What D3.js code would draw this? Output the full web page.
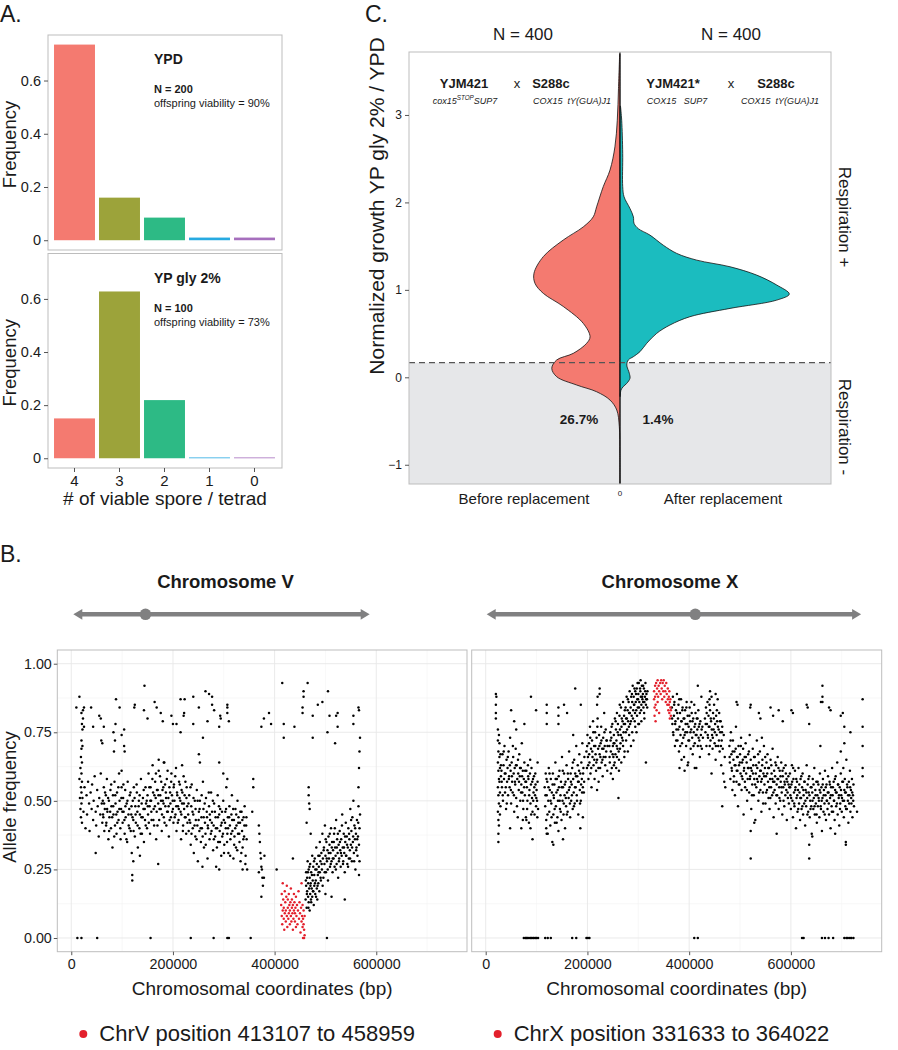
<!DOCTYPE html>
<html>
<head>
<meta charset="utf-8">
<script src="https://cdn.jsdelivr.net/npm/d3@7"></script>
<style>
  body { margin: 0; background: #fff; }
</style>
</head>
<body>
<script>
// ---------- data: panel A ----------
const sporeCats = ["4", "3", "2", "1", "0"];
const sporeColors = ["#f47a70", "#9ca33a", "#2dba85", "#27aae1", "#a66fbd"];
const ypdFreq = [0.735, 0.16, 0.085, 0.01, 0.01];
const glyFreq = [0.15, 0.628, 0.219, 0.003, 0.003];
const freqTicks = [0, 0.2, 0.4, 0.6];

// ---------- data: panel C (half violins, [growth, relative density]) ----------
const growthTicks = [-1, 0, 1, 2, 3];
const respThreshold = 0.167;
const beforeDensity = [
  [3.7, 0.002], [3.3, 0.009], [2.94, 0.016], [2.635, 0.030], [2.37, 0.059], [2.18, 0.099],
  [1.95, 0.138], [1.835, 0.158], [1.72, 0.217], [1.57, 0.335], [1.38, 0.453], [1.19, 0.508],
  [1.074, 0.502], [0.96, 0.453], [0.81, 0.335], [0.617, 0.217], [0.464, 0.177], [0.389, 0.197],
  [0.274, 0.276], [0.198, 0.374], [0.103, 0.403], [0.007, 0.374], [-0.088, 0.256], [-0.165, 0.138],
  [-0.26, 0.059], [-0.374, 0.019], [-0.564, 0.004], [-0.869, 0.001], [-1.22, 0.0005]
];
const afterDensity = [
  [3.1, 0.003], [2.94, 0.010], [2.56, 0.016], [2.18, 0.016], [2.064, 0.024], [1.93, 0.059],
  [1.835, 0.079], [1.76, 0.083], [1.70, 0.108], [1.626, 0.177], [1.51, 0.256], [1.417, 0.335],
  [1.34, 0.453], [1.264, 0.650], [1.169, 0.807], [1.055, 0.926], [0.952, 1.0], [0.883, 0.926],
  [0.788, 0.650], [0.693, 0.413], [0.598, 0.295], [0.503, 0.217], [0.389, 0.158], [0.293, 0.118],
  [0.236, 0.079], [0.198, 0.049], [0.141, 0.040], [0.046, 0.055], [-0.011, 0.059], [-0.069, 0.040],
  [-0.107, 0.019], [-0.145, 0.006], [-0.22, 0.001]
];
const groupLabels = ["Before replacement", "After replacement"];
const respLowPct = ["26.7%", "1.4%"];

// ---------- data: panel B ([kb, allele frequency %]) ----------
const chrVBlack = [
  [16,58],[17,51],[18,62],[18,47],[19,55],[19,44],[20,60],[20,53],[20,49],[21,57],[21,64],[21,42],[22,51],[22,70],[22,76],[23,83],[24,46],[26,55],[28,40],[30,52],[31,45],[33,57],[35,49],[36,39],[38,53],[40,47],[41,56],[43,43],[44,50],[46,59],[48,46],[49,41],[51,54],[52,48],[54,37],[55,51],[57,45],[58,60],[60,49],[61,42],[48,31],
  [20,69],[20,72],[21,78],[20,82],[19,66],
  [62,50],[63,44],[64,55],[65,39],[66,47],[68,52],[69,42],[70,58],[71,46],[73,36],[74,50],[75,44],[77,54],[78,40],[79,48],[81,33],[82,52],[83,45],[85,57],[86,41],[87,49],[89,38],[90,53],[91,46],[93,43],[94,60],[95,50],[97,36],[98,47],[99,55],
  [101,42],[102,51],[103,46],[105,38],[106,54],[107,44],[109,49],[110,35],[111,57],[113,41],[114,47],[115,52],[117,39],[118,45],[119,31],[121,50],[122,43],[123,55],[125,37],[126,48],[127,42],[129,53],[130,46],[131,33],[133,50],[134,40],[135,45],[137,58],[138,44],[139,38],[141,51],[142,47],[143,35],[145,43],[146,55],[147,49],[149,40],
  [150,52],[151,45],[152,60],[154,48],[155,38],[156,55],[157,50],[158,43],[160,63],[161,53],[162,47],[163,41],[165,57],[166,51],[167,36],[168,46],[170,54],[171,49],[172,61],[173,43],[175,52],[176,47],[177,57],[178,39],[180,50],[181,55],[182,44],[183,64],[185,48],[186,53],[187,41],[188,58],[190,46],[191,51],[192,37],[193,55],[195,49],[196,44],[197,60],[198,52],[200,47],[201,42],[202,56],[203,50],[205,45],[206,62],[207,39],[208,53],[210,48],[211,43],[212,57],[213,51],[215,46],[216,36],[217,54],[218,49],[220,41],[221,59],[222,47],[223,52],[225,44],[226,38],[227,55],[228,48],
  [230,45],[231,39],[232,52],[234,42],[235,34],[236,48],[237,56],[239,40],[240,45],[241,31],[243,50],[244,37],[245,43],[247,54],[248,41],[249,28],[251,46],[252,39],[253,50],[255,35],[256,44],[257,40],[259,57],[260,47],[261,33],[263,42],[264,38],[265,51],[267,44],[268,29],[269,40],[271,48],[272,36],[273,43],[275,53],[276,39],[277,46],[279,32],[280,41],[281,49],[283,37],[284,44],[285,26],[287,40],[288,52],[289,35],[291,45],[292,39],[293,47],[295,30],[296,42],[297,37],[299,50],[300,43],[301,34],[303,46],[304,40],[305,55],[307,38],[308,44],[309,31],[311,48],[312,41],[313,36],[315,45],[316,52],[317,39],[319,29],[320,43],[321,37],[323,47],[324,33],[325,41],[327,50],[328,38],[329,44],[331,35],[332,42],[333,28],[335,46],[336,39],[337,33],[339,44],[340,37],[341,48],[343,30],[344,41],[345,36],[346,25],
  [62.5,45],[64.5,49],[66.5,53],[68.5,41],[70.5,47],[72.5,51],[74.5,39],[76.5,46],[78.5,56],[80.5,44],[82.5,48],[84.5,37],[86.5,52],[88.5,45],[90.5,42],[92.5,55],[94.5,47],[96.5,40],[98.5,51],[100.5,46],[102.5,56],[104.5,43],[106.5,48],[108.5,36],[110.5,50],[112.5,45],[114.5,40],[116.5,53],[118.5,48],[120.5,44],[122.5,39],[124.5,51],[126.5,45],[128.5,56],[130.5,41],[132.5,48],[134.5,52],[136.5,38],[138.5,49],[140.5,44],[142.5,54],[144.5,47],[146.5,41],[148.5,50],
  [150.5,48],[152.5,42],[153.5,55],[155.5,50],[157.5,46],[159.5,58],[161.5,43],[163.5,52],[164.5,48],[166.5,60],[168.5,54],[169.5,41],[171.5,52],[173.5,47],[174.5,59],[176.5,50],[178.5,45],[179.5,54],[181.5,49],[183.5,42],[184.5,56],[186.5,51],[188.5,46],[189.5,61],[191.5,48],[193.5,43],[194.5,53],[196.5,57],[198.5,46],[199.5,50],[201.5,55],[203.5,44],[204.5,59],[206.5,48],[208.5,52],[209.5,42],[211.5,47],[213.5,56],[214.5,50],[216.5,45],[218.5,53],[219.5,39],[221.5,49],[223.5,44],[224.5,57],[226.5,51],[228.5,42],
  [230.5,49],[232.5,43],[234.5,55],[236.5,38],[238.5,46],[240.5,51],[242.5,41],[244.5,47],[246.5,36],[248.5,50],[250.5,43],[252.5,47],[254.5,40],[256.5,52],[258.5,37],[260.5,44],[262.5,49],[264.5,34],[266.5,46],[268.5,41],[270.5,53],[272.5,45],[274.5,38],[276.5,42],[278.5,50],[280.5,36],[282.5,46],[284.5,40],[286.5,33],[288.5,44],[290.5,48],[292.5,35],[294.5,41],[296.5,46],[298.5,38],[300.5,31],[302.5,42],[304.5,47],[306.5,35],[308.5,40],[310.5,44],[312.5,30],[314.5,38],[316.5,43],[318.5,47],[320.5,34],[322.5,40],[324.5,45],[326.5,32],[328.5,42],[330.5,38],[332.5,46],[334.5,31],[336.5,43],[338.5,36],[340.5,41],[342.5,27],[344.5,44],
  [358,58],[358,55],[356,46],[369,41],[370,38],[371,35],[372,31],[373,29],[374,26],[375,25],[376,22],[377,19],[379,22],[380,30],[374,15],[404,25],[436,29],
  [16,88],[10,84],[25,84],[39,84],[55,81],[88,87],[95,84],[125,85],[144,92],[143,83],[164,86],[176,82],[197,81],[215,87],[223,87],[222,82],[240,88],[264,90],[271,89],[277,88],[277,85],[293,81],[307,85],[307,84],
  [23,80],[25,77],[43,77],[58,80],[59,72],[64,77],[61,71],[83,75],[86,72],[87,78],[104,76],[104,70],[99,74],[124,84],[150,80],[168,84],[180,79],[200,78],[207,78],[215,75],[221,81],[240,78],[251,84],[259,73],[268,79],[281,83],[291,77],[294,80],[307,82],[310,79],
  [84,68],[105,68],[251,67],[253,64],[291,64],[299,60],[307,58],[172,65],[182,64],[218,63],[99,61],
  [120,23],[120,21],[122,28],[135,30],[171,27],[258,26],[291,25],[337,25],[369,24],
  [374,77],[379,80],[389,82],[393,78],[418,78],[418,73],[439,77],[415,93],[465,93],[505,90],[457,90],[457,88],[494,86],[455,84],[455,82],[475,81],[475,73],[485,85],[504,75],[508,81],[521,81],[524,77],[519,71],[555,81],[555,78],[524,82],[565,84],[566,83],
  [461,14],[462,19],[462,24],[463,11],[464,17],[464,22],[465,28],[466,15],[466,20],[467,13],[467,25],[468,18],[469,10],[469,22],[470,16],[470,27],[471,20],[472,13],[472,24],[473,18],[474,30],[474,15],[475,21],[476,26],[476,17],[477,12],[478,23],[478,19],[479,29],[480,16],[480,25],[481,21],[482,33],[483,18],[483,27],[484,14],[485,23],[486,30],[486,20],[487,26],[488,17],[489,35],[489,24],[490,28],[491,21],[492,31],[493,25],[494,38],[495,29],[496,22],[497,33],[498,27],[499,41],[500,30],[501,24],[502,35],[503,28],[504,32],[505,21],[506,37],[507,29],[508,34],[509,26],[510,31],[511,40],[512,28],[513,35],[514,24],[515,32],[516,29],[517,38],[518,26],[519,33],[520,30],[521,43],[522,27],[523,36],[524,31],[525,22],[526,34],[527,29],[528,39],[529,32],[530,26],[531,36],[532,30],[533,45],[534,33],[535,28],[536,38],[537,31],[538,24],[539,35],[540,42],[541,30],[542,37],[543,27],[544,33],[545,40],[546,29],[547,36],[548,32],[549,47],[550,34],[551,39],[552,28],[553,44],[554,35],[555,50],[556,31],[557,41],[558,36],[559,25],[560,38],[561,33],[562,43],[563,30],[564,37],[565,48],[565,55],[566,34],[566,62],[567,40],[567,68],[568,45],[568,73],[567,28],[566,23],
  [461.5,21],[463.5,16],[465.5,24],[466.5,11],[468.5,26],[470.5,19],[471.5,14],[473.5,23],[475.5,17],[477.5,28],[479.5,20],[481.5,15],[482.5,25],[484.5,19],[486.5,24],[488.5,30],[490.5,22],[492.5,27],[494.5,19],[496.5,32],[498.5,24],[500.5,36],[502.5,29],[504.5,25],[506.5,31],[508.5,38],[510.5,27],[512.5,33],[514.5,29],[516.5,35],[518.5,40],[520.5,25],[522.5,33],[524.5,38],[526.5,28],[528.5,35],[530.5,31],[532.5,41],[534.5,27],[536.5,33],[538.5,37],[540.5,30],[542.5,34],[544.5,26],[546.5,38],[548.5,29],[550.5,43],[552.5,33],[554.5,37],[556.5,28],[558.5,40],[560.5,32],[562.5,36],[564.5,42],
  [467,55],[467,52],[468,49],[469,47],[463,42],[471,38],[500,16],[512,15],[538,14],
  [12,0],[20,0],[51,0],[156,0],[235,0],[280,0],[307,0],[310,0],[353,0],[503,0]
];
const chrVRed = [
  [413,12],[414,8],[414,16],[415,5],[416,10],[416,20],[417,14],[418,7],[418,11],[419,3],[420,9],[420,17],[421,13],[422,6],[422,10],[423,15],[424,8],[424,19],[425,4],[426,11],[426,14],[427,7],[428,9],[428,16],[429,12],[430,5],[430,10],[431,13],[432,8],[432,18],[433,6],[434,11],[434,14],[435,9],[436,3],[436,12],[437,7],[438,10],[438,16],[439,13],[440,6],[440,9],[441,11],[442,4],[442,15],[443,8],[444,12],[445,5],[446,10],[447,17],[448,7],[449,13],[450,9],[451,2],[452,11],[453,6],[453,20],[454,8],[455,4],[455,12],[456,7],[456,0],[457,10],[457,5],[458,3],[458,0],[459,8],[459,1]
];
const chrXBlack = [
  [24,76],[24,72],[25,68],[24,64],[25,61],[26,58],[24,55],[25,52],[26,49],[24,46],[25,43],[26,41],[27,71],[27,66],[28,62],[27,57],[28,53],[29,48],[28,45],[30,59],[30,63],[29,67],[26,74],[25,38],[25,35],
  [20,85],[20,82],[20,80],[21,88],
  [31,61],[32,55],[33,67],[34,50],[35,63],[36,58],[37,70],[38,53],[39,60],[40,47],[41,65],[42,57],[43,62],[44,52],[45,68],[46,59],[47,55],[48,73],[49,61],[50,49],[51,64],[52,57],[53,53],[54,66],[55,60],[56,46],[57,62],[58,56],[59,69],[60,51],[61,63],[62,58],[63,44],[64,60],[65,54],[66,67],[67,59],[68,50],[69,62],[70,56],[71,71],[72,53],[73,61],[74,47],[75,58],[76,64],[77,52],[78,57],[79,44],[80,61],[81,55],[82,50],[83,63],[84,58],[85,42],[86,54],[87,60],[88,49],[89,56],[90,62],[91,51],[92,46],[93,58],[94,53],[95,59],[96,45],[97,52],[98,56],[99,48],[100,54],[101,50],[102,57],[103,47],
  [31.5,57],[33.5,52],[35.5,68],[37.5,60],[39.5,55],[41.5,49],[43.5,66],[45.5,58],[47.5,63],[49.5,54],[51.5,59],[53.5,70],[55.5,52],[57.5,57],[59.5,63],[61.5,48],[63.5,65],[65.5,57],[67.5,62],[69.5,53],[71.5,59],[73.5,50],[75.5,55],[77.5,61],[79.5,57],[81.5,47],[83.5,59],[85.5,52],[87.5,65],[89.5,45],[91.5,57],[93.5,50],[95.5,55],[97.5,60],[99.5,51],[101.5,44],
  [48,40],[70,40],[88,40],[60,76],[102,64],
  [116,55],[117,48],[118,60],[119,43],[120,52],[121,57],[122,38],[123,50],[124,62],[125,46],[126,54],[127,41],[128,58],[129,49],[130,53],[131,35],[132,60],[133,45],[134,51],[135,56],[136,42],[137,64],[138,48],[139,53],[140,58],[141,44],[142,50],[143,39],[144,55],[145,61],[146,47],[147,52],[148,57],[149,43],[150,66],[151,50],[152,55],[153,45],[154,60],[155,52],[156,40],[157,57],[158,48],[159,63],[160,53],[161,46],[162,58],[163,51],[164,68],[165,55],[166,44],[167,60],[168,50],[169,56],[170,62],[171,47],[172,58],[173,53],[174,65],[175,49],[176,60],[177,55],[178,70],[179,52],[180,59],[181,63],[182,45],[183,57],[184,67],[185,54],[186,60],[187,50],[188,64],[189,58],[190,71],[191,55],[192,62],[193,53],[194,66],
  [117.5,52],[119.5,58],[121.5,45],[123.5,55],[125.5,60],[127.5,50],[129.5,44],[131.5,56],[133.5,52],[135.5,47],[137.5,58],[139.5,42],[141.5,54],[143.5,59],[145.5,50],[147.5,46],[149.5,55],[151.5,61],[153.5,49],[155.5,56],[157.5,51],[159.5,45],[161.5,60],[163.5,54],[165.5,49],[167.5,57],[169.5,52],[171.5,64],[173.5,48],[175.5,55],[177.5,59],[179.5,50],[181.5,57],[183.5,61],[185.5,49],[187.5,56],[189.5,53],[191.5,60],[193.5,57],
  [198,68],[199,62],[200,74],[201,66],[202,58],[203,71],[204,64],[205,77],[206,60],[207,69],[208,55],[209,72],[210,66],[211,79],[212,63],[213,70],[214,58],[215,75],[216,67],[217,61],[218,73],[219,65],[220,80],[221,69],[222,57],[223,74],[224,67],[225,62],[226,71],[227,77],[228,64],[229,69],[230,59],[231,73],[232,66],[233,82],[234,70],[235,63],[236,76],[237,68],[238,72],[239,61],
  [199.5,70],[201.5,63],[203.5,67],[205.5,73],[207.5,62],[209.5,68],[211.5,75],[213.5,65],[215.5,70],[217.5,64],[219.5,77],[221.5,62],[223.5,70],[225.5,66],[227.5,72],[229.5,65],[231.5,69],[233.5,75],[235.5,66],[237.5,72],[239.5,70],
  [243,70],[244,64],[245,75],[246,68],[247,73],[248,62],[249,78],[250,70],[251,66],[252,74],[253,71],[254,80],[255,67],[256,76],[257,72],[258,82],[259,69],[260,78],[261,74],[262,65],[263,81],[264,76],[265,71],[266,84],[267,77],[268,73],[269,79],[270,86],[271,75],[272,81],[273,68],[274,78],[275,84],[276,80],[277,88],[278,76],[279,83],[280,79],[281,86],[282,82],[283,90],[284,78],[285,84],[286,88],[287,81],[288,86],[289,92],[290,83],[291,88],[292,85],[293,79],[294,90],[295,86],[296,83],[297,91],[298,87],[299,84],[300,89],[301,93],[302,86],[303,82],[304,90],[305,88],[306,85],[307,92],[308,87],[309,89],[310,84],[311,91],[312,86],[313,88],[314,93],[315,85],[316,89],[317,87],[318,90],
  [246,60],[252,63],[258,66],[264,69],[270,70],[276,72],[282,74],[288,75],[294,77],[300,78],[306,79],[312,80],[250,58],[262,61],
  [243.5,66],[245.5,72],[247.5,77],[249.5,67],[251.5,71],[253.5,64],[255.5,79],[257.5,70],[259.5,75],[261.5,68],[263.5,85],[265.5,74],[267.5,80],[269.5,72],[271.5,78],[273.5,83],[275.5,75],[277.5,80],[279.5,87],[281.5,77],[283.5,82],[285.5,79],[287.5,89],[289.5,80],[291.5,85],[293.5,82],[295.5,89],[297.5,81],[299.5,87],[301.5,84],[303.5,91],[305.5,83],[307.5,88],[309.5,86],[311.5,82],[313.5,90],[315.5,87],[317.5,84],[301.5,78],[296.5,75],[290.5,72],[285.5,70],[279.5,68],[272.5,66],[266.5,64],[256.5,62],[304.5,94],[309.5,92],[298.5,93],[292.5,91],
  [366,84],[367,78],[368,88],[369,74],[370,81],[371,86],[372,70],[373,79],[374,83],[375,76],[376,89],[377,72],[378,80],[379,85],[380,68],[381,77],[382,82],[383,74],[384,87],[385,79],[386,71],[387,84],[388,76],[389,80],[390,66],[391,74],[392,83],[393,78],[394,70],[395,86],[396,75],[397,81],[398,64],[399,77],[400,72],[401,84],[402,79],[403,69],[404,76],[405,82],[406,73],[407,67],[408,80],[409,75],[410,85],[411,71],[412,78],[413,74],[414,62],[415,80],[416,76],[417,70],[418,83],[419,77],[420,72],[421,66],[422,79],[423,74],[424,88],[425,69],[426,77],[427,73],
  [366.5,80],[368.5,75],[370.5,85],[372.5,78],[374.5,72],[376.5,82],[378.5,76],[380.5,87],[382.5,70],[384.5,79],[386.5,83],[388.5,73],[390.5,80],[392.5,75],[394.5,84],[396.5,78],[398.5,72],[400.5,81],[402.5,75],[404.5,86],[406.5,79],[408.5,70],[410.5,77],[412.5,82],[414.5,74],[416.5,80],[418.5,73],[420.5,78],[422.5,70],[424.5,76],
  [431,80],[432,75],[433,84],[434,70],[435,78],[436,86],[437,73],[438,81],[439,67],[440,77],[441,83],[442,72],[443,79],[444,88],[445,74],[446,69],[447,82],[448,76],[449,85],[450,71],[451,78],[452,65],[453,81],[454,74],[455,79],[456,87],[457,70],[458,76],[459,82],[460,68],[461,75],[462,79],[463,63],[464,72],[465,77],[466,69],[467,60],[468,74],[469,57],[470,66],[471,55],
  [432.5,78],[434.5,82],[436.5,74],[438.5,77],[440.5,70],[442.5,80],[444.5,76],[446.5,73],[448.5,80],[450.5,75],[452.5,70],[454.5,83],[456.5,77],[458.5,72],[460.5,79],[462.5,70],[464.5,75],
  [381,62],[391,61],[411,62],[444,60],[385,65],[397,63],
  [479,70],[480,64],[481,58],[482,75],[483,67],[484,61],[485,54],[486,72],[487,65],[488,59],[489,68],[490,52],[491,63],[492,77],[493,57],[494,66],[495,61],[496,48],[497,70],[498,63],[499,56],[500,67],[501,60],[502,73],[503,54],[504,64],[505,58],[506,69],[507,45],[508,62],[509,66],[510,55],[511,71],[512,60],[513,64],[514,50],[515,58],[516,67],[517,62],[518,53],[519,74],[520,59],[521,65],[522,47],[523,61],[524,56],[525,69],[526,63],[527,52],[528,58],[529,66],[530,43],[531,60],[532,55],[533,72],[534,62],[535,57],[536,50],[537,64],[538,59],[539,68],[540,54],[541,61],[542,46],[543,58],[544,65],[545,53],[546,60],[547,70],[548,56],[549,62],[550,49],[551,59],[552,64],[553,54],[554,67],[555,57],[556,51],[557,62],[558,47],[559,58],[560,65],[561,55],[562,60],[563,52],[564,69],[565,57],[566,44],[567,61],[568,54],[569,59],[570,49],[571,63],[572,56],[573,52],[574,66],[575,58],[576,47],[577,55],[578,61],[579,50],[580,57],[581,64],[582,53],[583,45],[584,59],[585,55],[586,62],[587,48],[588,56],[589,52],[590,60],[591,54],[592,43],[593,57],[594,51],[595,59],[596,49],[597,55],
  [479.5,66],[481.5,72],[483.5,62],[485.5,68],[487.5,57],[489.5,63],[491.5,69],[493.5,61],[495.5,66],[497.5,56],[499.5,64],[501.5,70],[503.5,59],[505.5,65],[507.5,61],[509.5,57],[511.5,66],[513.5,54],[515.5,62],[517.5,68],[519.5,58],[521.5,62],[523.5,52],[525.5,60],[527.5,66],[529.5,56],[531.5,63],[533.5,58],[535.5,67],[537.5,53],[539.5,61],[541.5,57],[543.5,63],[545.5,49],[547.5,59],[549.5,66],[551.5,53],[553.5,60],[555.5,62],[557.5,55],[559.5,51],[561.5,63],[563.5,58],[565.5,53],[567.5,57],[569.5,64],[571.5,52],[573.5,58],[575.5,62],[577.5,51],[579.5,59],[581.5,55],[583.5,61],[585.5,50],[587.5,57],[589.5,63],[591.5,58],[593.5,53],[595.5,56],
  [598,60],[599,52],[600,47],[601,56],[602,63],[603,50],[604,44],[605,58],[606,53],[607,48],[608,61],[609,55],[610,40],[611,51],[612,57],[613,46],[614,54],[615,62],[616,49],[617,53],[618,43],[619,58],[620,51],[621,47],[622,55],[623,60],[624,45],[625,52],[626,49],[627,57],[628,41],[629,54],[630,48],[631,63],[632,51],[633,56],[634,46],[635,53],[636,59],[637,44],[638,50],[639,55],[640,48],[641,38],[642,53],[643,58],[644,47],[645,51],[646,62],[647,45],[648,54],[649,49],[650,57],[651,42],[652,52],[653,48],[654,56],[655,50],[656,44],[657,60],[658,53],[659,47],[660,55],[661,39],[662,51],[663,58],[664,46],[665,54],[666,49],[667,61],[668,52],[669,43],[670,56],[671,50],[672,47],[673,59],[674,53],[675,45],[676,57],[677,51],[678,40],[679,55],[680,48],[681,62],[682,52],[683,46],[684,57],[685,50],[686,43],[687,54],[688,59],[689,48],[690,53],[691,64],[692,45],[693,56],[694,51],[695,41],[696,55],[697,49],[698,60],[699,52],[700,46],[701,57],[702,50],[703,62],[704,44],[705,54],[706,58],[707,48],[708,53],[709,65],[710,47],[711,55],[712,50],[713,42],[714,57],[715,52],[716,61],[717,46],[718,54],[719,49],[720,58],[721,44],[722,52],[723,56],[724,48],
  [598.5,55],[600.5,51],[602.5,57],[604.5,62],[606.5,49],[608.5,54],[610.5,58],[612.5,52],[614.5,47],[616.5,56],[618.5,51],[620.5,59],[622.5,48],[624.5,54],[626.5,57],[628.5,50],[630.5,53],[632.5,45],[634.5,58],[636.5,52],[638.5,47],[640.5,55],[642.5,50],[644.5,56],[646.5,48],[648.5,52],[650.5,45],[652.5,57],[654.5,51],[656.5,54],[658.5,48],[660.5,50],[662.5,56],[664.5,52],[666.5,45],[668.5,55],[670.5,50],[672.5,53],[674.5,49],[676.5,56],[678.5,52],[680.5,46],[682.5,55],[684.5,50],[686.5,58],[688.5,53],[690.5,49],[692.5,56],[694.5,52],[696.5,47],[698.5,54],[700.5,51],[702.5,57],[704.5,50],[706.5,53],[708.5,47],[710.5,56],[712.5,52],[714.5,49],[716.5,55],[718.5,51],[720.5,53],[722.5,50],
  [20,89],[89,88],[99,83],[50,83],[56,79],[76,78],[120,85],[120,82],[120,78],[143,81],[143,78],[154,85],[172,74],[187,85],[176,91],[160,82],[143,84],[224,91],[224,89],[220,88],[219,85],[417,92],[441,90],[452,89],[440,87],[440,85],[493,86],[495,85],[521,85],[520,84],[537,82],[565,81],[576,83],[560,84],[584,79],[601,83],[604,82],[631,85],[633,84],[659,86],[662,92],[662,88],[662,86],[675,84],[678,83],[698,81],[702,82],[705,77],[705,71],[636,78],[658,70],[698,68],[540,80],[543,73],[717,75],
  [92,36],[80,43],[73,43],[120,38],[119,40],[133,34],[152,36],[186,40],[191,44],[219,54],[261,51],[315,64],[465,48],[521,39],[521,29],[528,42],[572,38],[636,34],[636,29],[642,37],[708,35],[708,34],[687,38],[730,46],
  [741,87],[741,77],[741,70],[741,62],[741,59],
  [75,0],[78,0],[80,0],[82,0],[85,0],[88,0],[90,0],[93,0],[95,0],[98,0],[100,0],[103,0],[117,0],[122,0],[128,0],[170,0],[178,0],[198,0],[201,0],[204,0],[410,0],[417,0],[622,0],[625,0],[661,0],[667,0],[674,0],[683,0],[705,0],[709,0],[712,0],[716,0],[719,0],[723,0]
];
const chrXRed = [
  [331,90],[331,87],[332,84],[332,81],[333,92],[333,88],[334,85],[334,79],[335,93],[336,89],[336,83],[337,91],[338,94],[338,86],[339,88],[340,92],[341,82],[341,90],[343,93],[344,89],[345,94],[346,91],[347,87],[348,93],[349,90],[350,94],[351,88],[352,92],[353,90],[354,86],[355,93],[356,89],[357,85],[358,91],[358,87],[359,83],[360,88],[360,85],[361,90],[361,82],[362,86],[362,80],[363,84],[363,87],[364,81],[364,83]
];
const chromNames = ["Chromosome V", "Chromosome X"];
const chromArrowKb = [[4, 587, 146], [2, 738, 412]]; // left tip, right tip, centromere
const regionLabels = ["ChrV position 413107 to 458959", "ChrX position 331633 to 364022"];
const alleleTicks = [0, 0.25, 0.5, 0.75, 1];
const coordTicks = [0, 200000, 400000, 600000];

// ---------- drawing ----------
const FONT = '"Liberation Sans", Arial, Helvetica, sans-serif';
const INK = "#1a1a1a";
const svg = d3.select("body").append("svg")
  .attr("width", 898).attr("height", 1050)
  .style("font-family", FONT);

function label(x, y, s, size, o = {}) {
  const t = svg.append("text")
    .attr("x", x).attr("y", y)
    .attr("font-size", size + "px")
    .attr("fill", o.fill || INK)
    .attr("text-anchor", o.anchor || "start")
    .style("white-space", "pre")
    .text(s);
  if (o.bold) t.attr("font-weight", "bold");
  if (o.italic) t.attr("font-style", "italic");
  if (o.rotate) t.attr("transform", `rotate(${o.rotate},${x},${y})`);
  return t;
}

function styleAxis(g, size) {
  g.attr("font-family", null);
  g.select(".domain").remove();
  g.selectAll(".tick line").attr("stroke", "#555");
  g.selectAll(".tick text").attr("font-size", size + "px").attr("fill", INK);
}

// panel letters
label(0, 22, "A.", 23);
label(365, 22, "C.", 23);
label(0, 562, "B.", 23);

// ---- A ----
function sporePanel(top, bottom, freqs, medium, nText, viabText, showX) {
  const x = d3.scaleBand().domain(sporeCats).range([52, 277]).paddingInner(0.09).paddingOuter(0.045);
  const y = d3.scaleLinear().domain([-0.0367, 0.771]).range([bottom, top]);

  svg.append("rect").attr("x", 48).attr("y", top).attr("width", 234).attr("height", bottom - top)
    .attr("fill", "#fff").attr("stroke", "#bdbdbd");

  svg.append("g").selectAll("rect").data(freqs).join("rect")
    .attr("x", (d, i) => x(sporeCats[i]))
    .attr("width", x.bandwidth())
    .attr("y", d => y(d))
    .attr("height", d => y(0) - y(d))
    .attr("fill", (d, i) => sporeColors[i]);

  const ay = svg.append("g").attr("transform", "translate(48,0)")
    .call(d3.axisLeft(y).tickValues(freqTicks).tickSize(4).tickPadding(3)
      .tickFormat(d => d === 0 ? "0" : d3.format(".1f")(d)));
  styleAxis(ay, 14.5);

  label(154, top + 29, medium, 14, { bold: true });
  label(154, top + 58, nText, 11, { bold: true });
  label(154, top + 72, viabText, 11);

  label(16, (top + bottom) / 2 + 2, "Frequency", 18.5, { anchor: "middle", rotate: -90 });

  if (showX) {
    const ax = svg.append("g").attr("transform", `translate(0,${bottom})`)
      .call(d3.axisBottom(x).tickSize(4).tickPadding(3));
    styleAxis(ax, 15);
    label(165, bottom + 37, "# of viable spore / tetrad", 19, { anchor: "middle" });
  }
}
sporePanel(35, 250, ypdFreq, "YPD", "N = 200", "offspring viability = 90%", false);
sporePanel(253.5, 468, glyFreq, "YP gly 2%", "N = 100", "offspring viability = 73%", true);

// ---- C ----
const cL = 409, cR = 831, cT = 52, cB = 484, cMid = 620;
const cy = d3.scaleLinear().domain([-1.22, 3.72]).range([cB, cT]);
const dens = d3.scaleLinear().domain([0, 1]).range([0, 169.3]);

svg.append("rect").attr("x", cL).attr("y", cT).attr("width", cR - cL).attr("height", cB - cT)
  .attr("fill", "#fff");
svg.append("rect").attr("x", cL).attr("y", cy(respThreshold)).attr("width", cR - cL)
  .attr("height", cB - cy(respThreshold)).attr("fill", "#e6e7e9");

const leftArea = d3.area().curve(d3.curveCatmullRom)
  .y(d => cy(d[0])).x0(cMid).x1(d => cMid - dens(d[1]));
const rightArea = d3.area().curve(d3.curveCatmullRom)
  .y(d => cy(d[0])).x0(cMid).x1(d => cMid + dens(d[1]));
svg.append("path").datum(beforeDensity).attr("d", leftArea)
  .attr("fill", "#f47a70").attr("stroke", "#111").attr("stroke-width", 0.8);
svg.append("path").datum(afterDensity).attr("d", rightArea)
  .attr("fill", "#1bbcbf").attr("stroke", "#111").attr("stroke-width", 0.8);

svg.append("line").attr("x1", cL).attr("x2", cR)
  .attr("y1", cy(respThreshold)).attr("y2", cy(respThreshold))
  .attr("stroke", "#555").attr("stroke-width", 1.2).attr("stroke-dasharray", "6,4");
svg.append("line").attr("x1", cMid).attr("x2", cMid).attr("y1", cT).attr("y2", cB)
  .attr("stroke", "#111").attr("stroke-width", 1);
svg.append("rect").attr("x", cL).attr("y", cT).attr("width", cR - cL).attr("height", cB - cT)
  .attr("fill", "none").attr("stroke", "#bdbdbd");

const acy = svg.append("g").attr("transform", `translate(${cL},0)`)
  .call(d3.axisLeft(cy).tickValues(growthTicks).tickFormat(d3.format("d")).tickSize(4).tickPadding(3));
styleAxis(acy, 12);

label(384, 206, "Normalized growth YP gly 2% / YPD", 21, { anchor: "middle", rotate: -90 });
label(523, 40, "N = 400", 17, { anchor: "middle" });
label(731, 40, "N = 400", 17, { anchor: "middle" });
label(524, 504, groupLabels[0], 15, { anchor: "middle" });
label(723, 504, groupLabels[1], 15, { anchor: "middle" });
label(cMid, 496, "0", 8, { anchor: "middle" });
label(839, 217, "Respiration +", 17, { anchor: "middle", rotate: 90 });
label(839, 427, "Respiration -", 17, { anchor: "middle", rotate: 90 });
label(579, 424, respLowPct[0], 13.5, { anchor: "middle", bold: true });
label(658, 424, respLowPct[1], 13.5, { anchor: "middle", bold: true });

// cross labels
label(464, 88, "YJM421", 13, { anchor: "middle", bold: true });
label(517, 88, "x", 13, { anchor: "middle" });
label(551, 88, "S288c", 13, { anchor: "middle", bold: true });
label(673, 88, "YJM421*", 13, { anchor: "middle", bold: true });
label(731, 88, "x", 13, { anchor: "middle" });
label(776, 88, "S288c", 13, { anchor: "middle", bold: true });
const g1 = label(465, 104, "", 9, { anchor: "middle", italic: true });
g1.append("tspan").text("cox15");
g1.append("tspan").attr("dy", -4).attr("font-size", "6.3px").text("STOP");
g1.append("tspan").attr("dy", 4).text("SUP7");
label(572, 104, "COX15  tY(GUA)J1", 9, { anchor: "middle", italic: true });
label(677, 104, "COX15   SUP7", 9, { anchor: "middle", italic: true });
label(780, 104, "COX15  tY(GUA)J1", 9, { anchor: "middle", italic: true });

// ---- B ----
const bT = 650, bB = 951.7;
const by = d3.scaleLinear().domain([-0.05, 1.05]).range([bB, bT]);
const panelsB = [
  { left: 57.3, right: 467, black: chrVBlack, red: chrVRed },
  { left: 471.7, right: 881.7, black: chrXBlack, red: chrXRed }
];

panelsB.forEach((p, k) => {
  const bx = d3.scaleLinear().domain([-27500, 778500]).range([p.left, p.right]);
  svg.append("rect").attr("x", p.left).attr("y", bT).attr("width", p.right - p.left).attr("height", bB - bT)
    .attr("fill", "#fff");
  const grid = svg.append("g");
  [0.125, 0.375, 0.625, 0.875].forEach(v => grid.append("line")
    .attr("x1", p.left).attr("x2", p.right).attr("y1", by(v)).attr("y2", by(v))
    .attr("stroke", "#f3f3f3").attr("stroke-width", 0.6));
  [100000, 300000, 500000, 700000].forEach(v => grid.append("line")
    .attr("x1", bx(v)).attr("x2", bx(v)).attr("y1", bT).attr("y2", bB)
    .attr("stroke", "#f3f3f3").attr("stroke-width", 0.6));
  alleleTicks.forEach(v => grid.append("line")
    .attr("x1", p.left).attr("x2", p.right).attr("y1", by(v)).attr("y2", by(v))
    .attr("stroke", "#e8e8e8").attr("stroke-width", 0.9));
  coordTicks.forEach(v => grid.append("line")
    .attr("x1", bx(v)).attr("x2", bx(v)).attr("y1", bT).attr("y2", bB)
    .attr("stroke", "#e8e8e8").attr("stroke-width", 0.9));

  svg.append("g").selectAll("circle").data(p.black).join("circle")
    .attr("cx", d => bx(d[0] * 1000)).attr("cy", d => by(d[1] / 100))
    .attr("r", 1.25).attr("fill", "#000");
  svg.append("g").selectAll("circle").data(p.red).join("circle")
    .attr("cx", d => bx(d[0] * 1000)).attr("cy", d => by(d[1] / 100))
    .attr("r", 1.25).attr("fill", "#e3202c");

  svg.append("rect").attr("x", p.left).attr("y", bT).attr("width", p.right - p.left).attr("height", bB - bT)
    .attr("fill", "none").attr("stroke", "#bdbdbd");

  const ax = svg.append("g").attr("transform", `translate(0,${bB})`)
    .call(d3.axisBottom(bx).tickValues(coordTicks).tickFormat(d3.format("d")).tickSize(3.5).tickPadding(4));
  styleAxis(ax, 14.3);
  if (k === 0) {
    const ay = svg.append("g").attr("transform", `translate(${p.left},0)`)
      .call(d3.axisLeft(by).tickValues(alleleTicks).tickFormat(d3.format(".2f")).tickSize(3.5).tickPadding(2));
    styleAxis(ay, 14.3);
    label(16, 797, "Allele frequency", 18.5, { anchor: "middle", rotate: -90 });
  }
  const mid = (p.left + p.right) / 2;
  label(mid, 995, "Chromosomal coordinates (bp)", 19, { anchor: "middle" });

  // chromosome diagram
  const [a0, a1, cen] = chromArrowKb[k].map(v => bx(v * 1000));
  label((a0 + a1) / 2 + (k === 0 ? 4 : -4), 588, chromNames[k], 18.5, { anchor: "middle", bold: true });
  const ay0 = 614.3, head = 9, hw = 5.4;
  svg.append("line").attr("x1", a0 + head - 1).attr("x2", a1 - head + 1).attr("y1", ay0).attr("y2", ay0)
    .attr("stroke", "#808081").attr("stroke-width", 4.5);
  svg.append("path").attr("d", `M${a0},${ay0}L${a0 + head},${ay0 - hw}L${a0 + head},${ay0 + hw}Z`).attr("fill", "#808081");
  svg.append("path").attr("d", `M${a1},${ay0}L${a1 - head},${ay0 - hw}L${a1 - head},${ay0 + hw}Z`).attr("fill", "#808081");
  svg.append("circle").attr("cx", cen).attr("cy", ay0).attr("r", 5.8).attr("fill", "#808081");

  // region legend
  svg.append("circle").attr("cx", p.left + 26).attr("cy", 1034).attr("r", 4).attr("fill", "#e3202c");
  label(p.left + 42, 1041, regionLabels[k], 22);
});
</script>
</body>
</html>
